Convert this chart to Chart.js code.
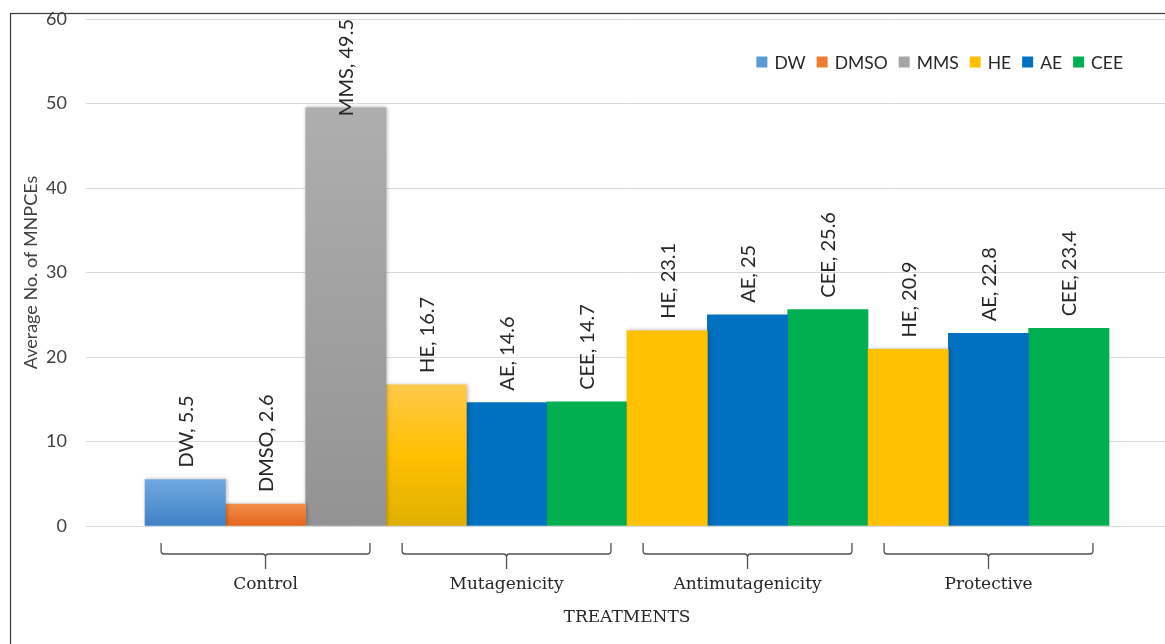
<!DOCTYPE html>
<html>
<head>
<meta charset="utf-8">
<script src="https://cdn.jsdelivr.net/npm/chart.js@4.4.1/dist/chart.umd.min.js"></script>
<style>
  html, body { margin: 0; padding: 0; background: #ffffff; }
  #wrap { width: 1165px; height: 644px; position: relative; }
</style>
</head>
<body>
<div id="wrap"><canvas id="c" width="1165" height="644"></canvas></div>
<script>
// ---- data ----
const categories = ['Control', 'Mutagenicity', 'Antimutagenicity', 'Protective'];
const seriesNames = ['DW', 'DMSO', 'MMS', 'HE', 'AE', 'CEE'];
const DW   = [5.5,  null, null, null];
const DMSO = [2.6,  null, null, null];
const MMS  = [49.5, null, null, null];
const HE   = [null, 16.7, 23.1, 20.9];
const AE   = [null, 14.6, 25,   22.8];
const CEE  = [null, 14.7, 25.6, 23.4];
const yTicks = [0, 10, 20, 30, 40, 50, 60];
const xTitle = 'TREATMENTS';
const yTitle = 'Average No. of MNPCEs';

// ---- styles ----
const seriesValues = [DW, DMSO, MMS, HE, AE, CEE];
const seriesColors = ['#5B9BD5', '#ED7D31', '#A5A5A5', '#FFC000', '#0070C0', '#00B050'];
const gradientStops = {
  DW:   [['#6FA8E0', 0], ['#3F82C6', 1]],
  DMSO: [['#F38D4A', 0], ['#E3661B', 1]],
  MMS:  [['#AEAEAE', 0], ['#939393', 1]],
  HE:   [['#FFC84A', 0], ['#FFC000', 0.5], ['#DEB000', 1]]
};
// which (series, group) bars are drawn with gradient + shadow
const gradientBars = { DW: [0], DMSO: [0], MMS: [0], HE: [1] };
const sansFont = 'Lato, "Open Sans", sans-serif';
const serifFont = '"DejaVu Serif", serif';
const textColor = '#404040';

// slots per group (3 bars each)
const barsPerGroup = 3;
const datasets = seriesNames.map((name) => ({ label: name, data: [] }));
const barPositions = [];
categories.forEach((cat, g) => {
  let slot = 0;
  seriesValues.forEach((vals, s) => {
    if (vals[g] !== null && vals[g] !== undefined) {
      const x = g * barsPerGroup + slot;
      datasets[s].data.push({ x: x, y: vals[g], g: g });
      barPositions.push(x);
      slot++;
    }
  });
});

function isGradientBar(name, g) {
  return gradientBars[name] && gradientBars[name].indexOf(g) >= 0;
}

datasets.forEach((ds, s) => {
  const name = seriesNames[s];
  ds.backgroundColor = (ctx) => {
    const chart = ctx.chart;
    const raw = ctx.raw;
    if (!raw || !chart.chartArea || !chart.scales.y) return seriesColors[s];
    if (!isGradientBar(name, raw.g)) return seriesColors[s];
    const yS = chart.scales.y;
    const top = yS.getPixelForValue(raw.y);
    const bot = yS.getPixelForValue(0);
    const grad = chart.ctx.createLinearGradient(0, top, 0, bot);
    gradientStops[name].forEach(([c, p]) => grad.addColorStop(p, c));
    return grad;
  };
  ds.borderWidth = 0;
  ds.grouped = false;
  ds.categoryPercentage = 1;
  ds.barPercentage = 1;
});

// ---- plugins ----
const framePlugin = {
  id: 'frame',
  beforeDraw(chart) {
    const ctx = chart.ctx;
    ctx.save();
    ctx.fillStyle = '#ffffff';
    ctx.fillRect(0, 0, chart.width, chart.height);
    ctx.strokeStyle = '#3a3a3a';
    ctx.lineWidth = 1.2;
    ctx.strokeRect(10.5, 13.5, chart.width + 20, chart.height + 20);
    ctx.restore();
  }
};

const shadowPlugin = {
  id: 'barShadow',
  beforeDatasetDraw(chart, args) {
    const name = seriesNames[args.index];
    if (gradientBars[name]) {
      const ctx = chart.ctx;
      ctx.save();
      ctx.shadowColor = 'rgba(0,0,0,0.28)';
      ctx.shadowBlur = 4;
      ctx.shadowOffsetX = 1;
      ctx.shadowOffsetY = 0;
    }
  },
  afterDatasetDraw(chart, args) {
    const name = seriesNames[args.index];
    if (gradientBars[name]) chart.ctx.restore();
  }
};

const labelPlugin = {
  id: 'barLabels',
  afterDatasetsDraw(chart) {
    const ctx = chart.ctx;
    const area = chart.chartArea;
    ctx.save();
    ctx.font = '20px ' + sansFont;
    ctx.fillStyle = '#262626';
    ctx.textAlign = 'left';
    ctx.textBaseline = 'middle';
    chart.data.datasets.forEach((ds, s) => {
      const meta = chart.getDatasetMeta(s);
      meta.data.forEach((el, i) => {
        const txt = ds.label + ', ' + ds.data[i].y;
        const w = ctx.measureText(txt).width;
        const start = Math.max(el.y - 12, area.top + w);
        ctx.save();
        ctx.translate(el.x, start);
        ctx.rotate(-Math.PI / 2);
        ctx.fillText(txt, 0, 1);
        ctx.restore();
      });
    });
    ctx.restore();
  }
};

const legendPlugin = {
  id: 'customLegend',
  afterDraw(chart) {
    const ctx = chart.ctx;
    const area = chart.chartArea;
    ctx.save();
    ctx.font = '17.5px ' + sansFont;
    ctx.textBaseline = 'middle';
    ctx.textAlign = 'left';
    const box = 11, gapBT = 7, gapItem = 11;
    const widths = seriesNames.map((n) => ctx.measureText(n).width);
    let total = 0;
    widths.forEach((w, i) => { total += box + gapBT + w + (i < widths.length - 1 ? gapItem : 0); });
    let x = area.right - 42 - total;
    const cy = area.top + 43;
    seriesNames.forEach((n, i) => {
      ctx.fillStyle = seriesColors[i];
      ctx.fillRect(x, cy - box / 2, box, box);
      ctx.fillStyle = '#262626';
      ctx.fillText(n, x + box + gapBT, cy + 1);
      x += box + gapBT + widths[i] + gapItem;
    });
    ctx.restore();
  }
};

const groupAxisPlugin = {
  id: 'groupAxis',
  afterDraw(chart) {
    const ctx = chart.ctx;
    const xS = chart.scales.x;
    const area = chart.chartArea;
    const unit = xS.getPixelForValue(1) - xS.getPixelForValue(0);
    const yTop = area.bottom + 17, yMid = area.bottom + 28, yBot = area.bottom + 43;
    const r = 3;
    ctx.save();
    ctx.strokeStyle = '#505050';
    ctx.lineWidth = 1.3;
    categories.forEach((cat, g) => {
      const c = xS.getPixelForValue(g * barsPerGroup + (barsPerGroup - 1) / 2);
      const l = c - 1.3 * unit, rr = c + 1.3 * unit;
      ctx.beginPath();
      ctx.moveTo(l, yTop);
      ctx.lineTo(l, yMid - r);
      ctx.quadraticCurveTo(l, yMid, l + r, yMid);
      ctx.lineTo(c - r, yMid);
      ctx.quadraticCurveTo(c, yMid, c, yMid + r);
      ctx.lineTo(c, yBot);
      ctx.moveTo(c, yMid + r);
      ctx.quadraticCurveTo(c, yMid, c + r, yMid);
      ctx.lineTo(rr - r, yMid);
      ctx.quadraticCurveTo(rr, yMid, rr, yMid - r);
      ctx.lineTo(rr, yTop);
      ctx.stroke();
      ctx.fillStyle = '#262626';
      ctx.font = '17px ' + serifFont;
      ctx.textAlign = 'center';
      ctx.textBaseline = 'middle';
      ctx.fillText(cat, c, area.bottom + 59);
    });
    const n = categories.length * barsPerGroup;
    const mid = xS.getPixelForValue((n - 1) / 2);
    ctx.fillStyle = '#262626';
    ctx.font = '17px ' + serifFont;
    ctx.textAlign = 'center';
    ctx.textBaseline = 'middle';
    ctx.fillText(xTitle, mid, area.bottom + 92);
    ctx.restore();
  }
};

new Chart(document.getElementById('c'), {
  type: 'bar',
  data: { datasets: datasets },
  options: {
    responsive: false,
    animation: false,
    devicePixelRatio: 1,
    layout: { padding: { top: 19, bottom: 118, left: 0, right: 0 } },
    plugins: {
      legend: { display: false },
      tooltip: { enabled: false }
    },
    scales: {
      x: {
        type: 'linear',
        display: false,
        bounds: 'data',
        offset: false,
        min: -1.235,
        max: 12.197,
        afterBuildTicks(scale) { scale.ticks = barPositions.map((v) => ({ value: v })); },
        grid: { display: false, offset: false }
      },
      y: {
        min: yTicks[0],
        max: yTicks[yTicks.length - 1],
        afterBuildTicks(scale) { scale.ticks = yTicks.map((v) => ({ value: v })); },
        afterFit(scale) { scale.width = 86; scale.paddingTop = 0; scale.paddingBottom = 0; },
        ticks: {
          padding: 19,
          color: textColor,
          font: { family: sansFont, size: 18 }
        },
        grid: { color: '#d9d9d9', lineWidth: 1, drawTicks: false },
        border: { display: false },
        title: {
          display: true,
          text: yTitle,
          color: textColor,
          font: { family: sansFont, size: 18 },
          padding: { top: 20, bottom: 0 }
        }
      }
    }
  },
  plugins: [framePlugin, shadowPlugin, labelPlugin, legendPlugin, groupAxisPlugin]
});
</script>
</body>
</html>
